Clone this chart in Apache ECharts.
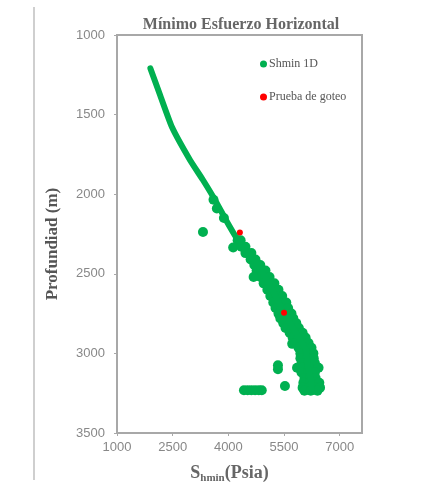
<!DOCTYPE html>
<html><head><meta charset="utf-8">
<script src="https://cdn.jsdelivr.net/npm/echarts@6/dist/echarts.min.js"></script>
<style>html,body{margin:0;padding:0;background:#fff}#c{width:438px;height:486px}</style>
</head><body><div id="c"></div>
<script>
// Trend centre of Shmin 1D band [Psia, m]
const shminTrend = [
  [1900,1210],[2160,1377],[2480,1578],[2966,1785],[3316,1911],[3640,2036],[3935,2162],
  [4205,2269],[4528,2369],[4797,2444],[5040,2539],[5255,2633],[5497,2746],[5820,2871],
  [6090,2978],[6144,3085],[6224,3167],[6251,3229]
];
// Scattered Shmin 1D points (band width and outliers) [Psia, m]
const shminPoints = [
  [3600,2035],[3690,2090],[3880,2150],[3316,2237],
  [4250,2290],[4330,2290],[4130,2335],[4350,2330],[4460,2330],
  [4460,2370],[4620,2370],[4600,2410],[4730,2410],
  [4700,2445],[4860,2445],[4760,2480],[4880,2480],[5000,2480],
  [4865,2520],[4990,2520],[5110,2520],[4680,2520],
  [4950,2560],[5100,2560],[5240,2560],[5050,2600],[5200,2600],[5350,2600],
  [5130,2640],[5290,2640],[5450,2640],[5210,2680],[5380,2680],[5560,2680],
  [5270,2715],[5440,2715],[5610,2715],[5350,2750],[5520,2750],[5700,2750],
  [5400,2780],[5580,2780],[5750,2780],[5480,2810],[5650,2810],[5830,2810],
  [5540,2840],[5720,2840],[5900,2840],[5650,2870],[5820,2870],[6000,2870],
  [5730,2900],[5900,2900],[6080,2900],[5720,2940],[5810,2935],[5990,2935],[6160,2935],
  [5890,2965],[6060,2965],[6240,2965],[5940,3000],[6120,3000],[6290,3000],
  [5940,3030],[6120,3030],[6300,3030],[5970,3060],[6150,3060],[6330,3060],
  [5850,3090],[6000,3090],[6180,3090],[6430,3090],[5970,3120],[6150,3120],[6330,3120],
  [6050,3155],[6200,3155],[6350,3155],[6020,3185],[6200,3185],[6350,3185],[6450,3185],
  [6000,3215],[6180,3215],[6350,3215],[6470,3215],[6050,3235],[6220,3235],[6400,3235],
  [5336,3075],[5336,3100],[5524,3205],
  [4420,3232],[4520,3232],[4620,3232],[4720,3232],[4820,3232],[4900,3232]
];
// Leak-off tests [Psia, m]
const pruebaGoteo = [[4310,2240],[5500,2745]];
const xTicks = {min:1000, max:7600, interval:1500};
const yTicks = {min:1000, max:3500, interval:500};

const chart = echarts.init(document.getElementById('c'));
const green = '#00b050';
const serif = '"Liberation Serif","DejaVu Serif",serif';
const sans = '"Liberation Sans",Arial,sans-serif';
chart.setOption({
  animation:false,
  title:{text:'Mínimo Esfuerzo Horizontal', left:236, textAlign:'center', top:12,
    textStyle:{fontFamily:serif, fontWeight:'bold', fontSize:16, color:'#666'}},
  graphic:[{type:'line', shape:{x1:34,y1:7,x2:34,y2:480}, style:{stroke:'#cfcfcf', lineWidth:2}}],
  legend:{orient:'vertical', left:255, top:53, itemGap:21, itemWidth:7, itemHeight:7,
    textStyle:{fontFamily:serif, fontSize:12, color:'#555', padding:[0,0,0,-3]},
    data:[{name:'Shmin 1D', icon:'circle'},{name:'Prueba de goteo', icon:'circle'}]},
  grid:{left:117, right:76, top:35, bottom:53, outerBoundsMode:'none', containLabel:false,
    show:true, borderColor:'#a8a8a8', borderWidth:2},
  xAxis:{type:'value', min:xTicks.min, max:xTicks.max, interval:xTicks.interval,
    splitLine:{show:false},
    axisLine:{lineStyle:{color:'#a8a8a8', width:2}},
    axisTick:{show:true, length:3, lineStyle:{color:'#a8a8a8'}},
    axisLabel:{showMaxLabel:false, margin:8, fontFamily:sans, fontSize:13, color:'#888',
      formatter:v => String(v)},
    name:'{s|S}{sub|hmin}{s|(Psia)}', nameLocation:'middle', nameGap:30,
    nameTextStyle:{padding:[0,20,0,0], rich:{
      s:{fontFamily:serif, fontWeight:'bold', fontSize:18, color:'#666'},
      sub:{fontFamily:serif, fontWeight:'bold', fontSize:11, color:'#666', padding:[10,0,0,0]}}}},
  yAxis:{type:'value', inverse:true, min:yTicks.min, max:yTicks.max, interval:yTicks.interval,
    splitLine:{show:false},
    axisLine:{lineStyle:{color:'#a8a8a8', width:2}},
    axisTick:{show:true, length:3, lineStyle:{color:'#a8a8a8'}},
    axisLabel:{margin:12, fontFamily:sans, fontSize:13, color:'#888', formatter:v => String(v)},
    name:'Profundiad (m)', nameLocation:'middle', nameGap:56,
    nameTextStyle:{fontFamily:serif, fontWeight:'bold', fontSize:17, color:'#555', padding:[0,20,0,0]}},
  series:[
    {name:'Shmin 1D', type:'scatter', data:shminPoints, symbolSize:10,
      itemStyle:{color:green, opacity:1}, emphasis:{disabled:true}},
    {name:'Shmin 1D', type:'line', data:shminTrend, smooth:0.15, showSymbol:false, symbol:'none',
      lineStyle:{color:green, width:6, cap:'round', join:'round'}, itemStyle:{color:green},
      emphasis:{disabled:true}},
    {name:'Prueba de goteo', type:'scatter', data:pruebaGoteo, symbolSize:6, z:5,
      itemStyle:{color:'#ff0000', opacity:1}, emphasis:{disabled:true}}
  ]
});
</script></body></html>
